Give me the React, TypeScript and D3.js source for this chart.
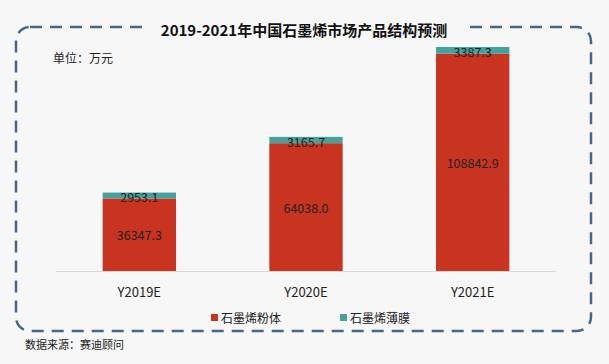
import React, { useEffect, useRef } from 'react';
import * as d3 from 'd3';

const categories = ['Y2019E', 'Y2020E', 'Y2021E'];
const powder = [36347.3, 64038.0, 108842.9];
const film = [2953.1, 3165.7, 3387.3];
const seriesNames = ['石墨烯粉体', '石墨烯薄膜'];
const colors = ['#c8341f', '#45a19c'];

const title = '2019-2021年中国石墨烯市场产品结构预测';
const unitLabel = '单位：万元';
const sourceLabel = '数据来源：赛迪顾问';

const FONT = '"Noto Sans CJK SC", "Noto Sans", sans-serif';

const App = () => {
  const ref = useRef<SVGSVGElement>(null);

  useEffect(() => {
    const width = 609;
    const height = 364;
    const svg = d3.select(ref.current).attr('width', width).attr('height', height);
    svg.selectAll('*').remove();

    svg.append('rect').attr('width', width).attr('height', height).attr('fill', '#f7f7f7');

    // dashed rounded frame
    svg
      .append('rect')
      .attr('x', 16)
      .attr('y', 27)
      .attr('width', 575)
      .attr('height', 304)
      .attr('rx', 14)
      .attr('fill', 'none')
      .attr('stroke', '#46678b')
      .attr('stroke-width', 2.5)
      .attr('stroke-dasharray', '12 8');

    // gap behind the title
    svg.append('rect').attr('x', 142).attr('y', 18).attr('width', 322).attr('height', 20).attr('fill', '#f7f7f7');

    svg
      .append('text')
      .attr('x', 304)
      .attr('y', 29)
      .attr('text-anchor', 'middle')
      .attr('dominant-baseline', 'central')
      .attr('font-family', FONT)
      .attr('font-weight', 'bold')
      .attr('font-size', 15)
      .attr('fill', '#111')
      .text(title);

    svg
      .append('text')
      .attr('x', 53)
      .attr('y', 57)
      .attr('dominant-baseline', 'central')
      .attr('font-family', FONT)
      .attr('font-size', 12)
      .attr('fill', '#222')
      .text(unitLabel);

    const x = d3.scaleBand().domain(categories).range([56, 556]).paddingInner(0.56).paddingOuter(0.28);
    const totals = categories.map((_, i) => powder[i] + film[i]);
    const y = d3.scaleLinear().domain([0, d3.max(totals) as number]).range([271, 47]);

    const data = categories.map((c, i) => ({ c, powder: powder[i], film: film[i] }));
    const stacked = d3.stack<any>().keys(['powder', 'film'])(data);

    svg
      .append('line')
      .attr('x1', 56)
      .attr('x2', 556)
      .attr('y1', y(0) + 0.5)
      .attr('y2', y(0) + 0.5)
      .attr('stroke', '#d9d9d9');

    stacked.forEach((layer, k) => {
      const g = svg.append('g');
      g.selectAll('rect')
        .data(layer)
        .enter()
        .append('rect')
        .attr('x', (d: any) => x(d.data.c) as number)
        .attr('width', x.bandwidth())
        .attr('y', (d) => y(d[1]))
        .attr('height', (d) => y(d[0]) - y(d[1]))
        .attr('fill', colors[k]);
      g.selectAll('text')
        .data(layer)
        .enter()
        .append('text')
        .attr('x', (d: any) => (x(d.data.c) as number) + x.bandwidth() / 2)
        .attr('y', (d) => (y(d[0]) + y(d[1])) / 2 + (k === 1 ? 1 : 0))
        .attr('text-anchor', 'middle')
        .attr('dominant-baseline', 'central')
        .attr('font-family', FONT)
        .attr('font-size', 12.5)
        .attr('fill', '#222')
        .text((d) => (d[1] - d[0]).toFixed(1));
    });

    svg
      .append('g')
      .selectAll('text')
      .data(categories)
      .enter()
      .append('text')
      .attr('x', (d) => (x(d) as number) + x.bandwidth() / 2)
      .attr('y', 291)
      .attr('text-anchor', 'middle')
      .attr('dominant-baseline', 'central')
      .attr('font-family', FONT)
      .attr('font-size', 13)
      .attr('fill', '#222')
      .text((d) => d);

    const legendX = [211, 340];
    seriesNames.forEach((name, i) => {
      svg
        .append('rect')
        .attr('x', legendX[i])
        .attr('y', 314)
        .attr('width', 7)
        .attr('height', 7)
        .attr('fill', colors[i]);
      svg
        .append('text')
        .attr('x', legendX[i] + 10)
        .attr('y', 317.5)
        .attr('dominant-baseline', 'central')
        .attr('font-family', FONT)
        .attr('font-size', 12)
        .attr('fill', '#222')
        .text(name);
    });

    svg
      .append('text')
      .attr('x', 25)
      .attr('y', 344)
      .attr('dominant-baseline', 'central')
      .attr('font-family', FONT)
      .attr('font-size', 11)
      .attr('fill', '#222')
      .text(sourceLabel);
  }, []);

  return <svg ref={ref} style={{ position: 'absolute', left: 0, top: 0, display: 'block' }} />;
};

export default App;
